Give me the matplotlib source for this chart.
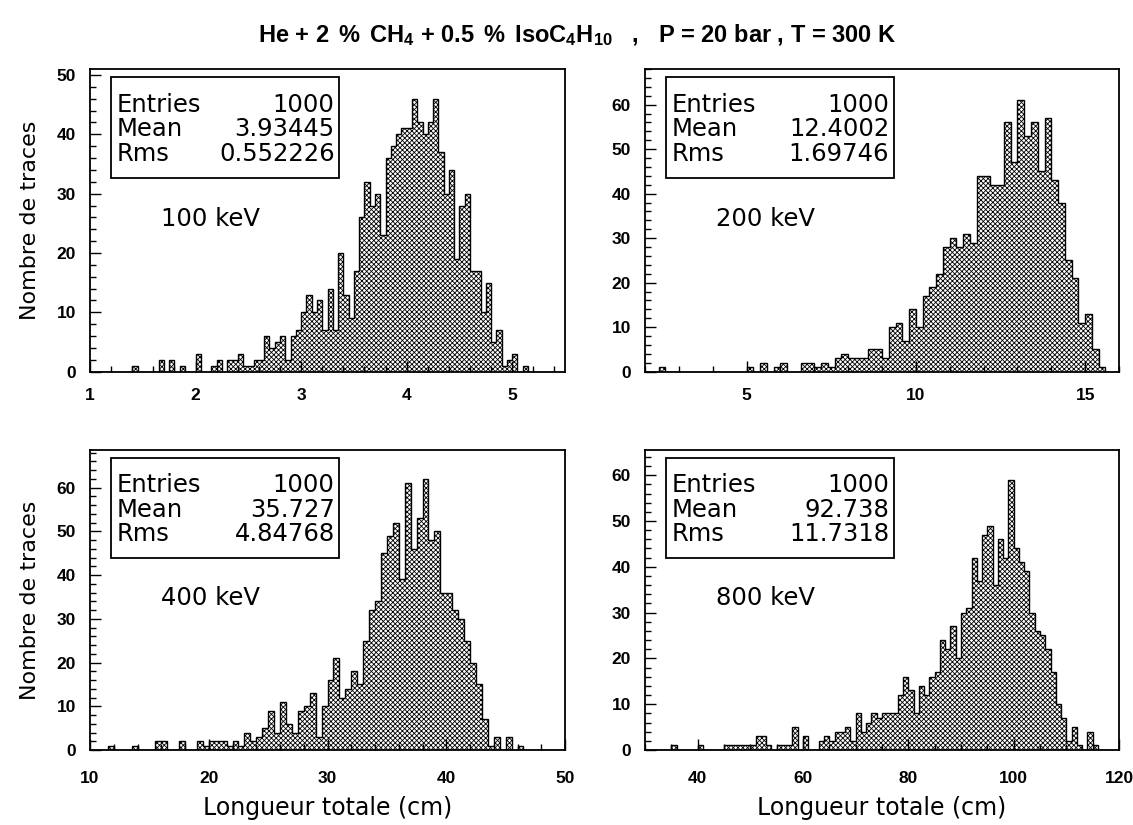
import numpy as np
import matplotlib
matplotlib.use("Agg")
import matplotlib.pyplot as plt
from matplotlib.patches import Rectangle
from matplotlib.ticker import MultipleLocator

# bin contents (1000 tracks each)
counts_100 = [
    0, 0, 0, 0, 0, 0, 0, 0, 1, 0,
    0, 0, 0, 2, 0, 2, 0, 1, 0, 0,
    3, 0, 0, 1, 2, 0, 2, 2, 3, 1,
    1, 2, 2, 6, 4, 5, 6, 2, 6, 7,
    10, 13, 10, 12, 7, 14, 7, 20, 13, 9,
    17, 26, 32, 28, 30, 23, 36, 38, 40, 41,
    41, 46, 42, 40, 42, 46, 37, 30, 34, 19,
    28, 30, 17, 17, 10, 15, 5, 7, 1, 2,
    3, 0, 1, 0, 0, 0, 0, 0, 0, 0,
]
counts_200 = [
    0, 0, 1, 0, 0, 0, 0, 0, 0, 0,
    0, 0, 0, 0, 0, 1, 0, 2, 0, 1,
    2, 0, 0, 2, 2, 1, 2, 1, 3, 4,
    3, 3, 3, 5, 5, 3, 10, 11, 7, 14,
    10, 17, 19, 22, 28, 30, 28, 31, 29, 44,
    44, 42, 42, 56, 47, 61, 53, 56, 45, 57,
    43, 38, 25, 21, 11, 13, 5, 1, 0, 0,
]
counts_400 = [
    0, 0, 0, 1, 0, 0, 0, 1, 0, 0,
    0, 2, 2, 0, 0, 2, 0, 0, 2, 1,
    2, 2, 2, 1, 2, 1, 4, 2, 3, 5,
    9, 4, 11, 6, 4, 9, 10, 13, 3, 10,
    16, 21, 12, 14, 18, 15, 25, 32, 34, 45,
    49, 52, 39, 61, 46, 53, 62, 48, 50, 36,
    36, 32, 30, 25, 20, 15, 7, 1, 3, 0,
    3, 0, 1, 0, 0, 0, 0, 0, 0, 0,
]
counts_800 = [
    0, 0, 0, 0, 0, 1, 0, 0, 0, 0,
    1, 0, 0, 0, 0, 1, 1, 1, 1, 1,
    1, 3, 3, 1, 0, 1, 1, 1, 5, 0,
    3, 0, 0, 2, 3, 2, 4, 4, 5, 2,
    8, 4, 6, 8, 7, 8, 8, 8, 12, 16,
    13, 8, 14, 12, 16, 17, 24, 22, 27, 20,
    30, 31, 42, 37, 47, 49, 36, 46, 42, 59,
    44, 41, 39, 30, 26, 25, 22, 17, 10, 7,
    2, 5, 1, 0, 4, 1, 0, 0, 0, 0,
]

energies = ["100 keV", "200 keV", "400 keV", "800 keV"]
entries = ["1000", "1000", "1000", "1000"]
means = ["3.93445", "12.4002", "35.727", "92.738"]
rms = ["0.552226", "1.69746", "4.84768", "11.7318"]
x_ranges = [(1.0, 5.5), (2.0, 16.0), (10.0, 50.0), (30.0, 120.0)]
y_max = [51.0, 68.0, 68.6, 65.5]
x_major = [1, 5, 10, 20]
x_minor = [0.2, 1, 2, 5]

# tick labels are bold Helvetica-like; other text set explicitly below
plt.rcParams["font.family"] = "Liberation Sans"
plt.rcParams["font.weight"] = "bold"
plt.rcParams["hatch.linewidth"] = 0.6
plt.rcParams["mathtext.fontset"] = "custom"
plt.rcParams["mathtext.rm"] = "Liberation Sans:bold"
plt.rcParams["mathtext.it"] = "Liberation Sans:bold"
plt.rcParams["mathtext.bf"] = "Liberation Sans:bold"

W, H = 1133, 825
fig = plt.figure(figsize=(W / 100, H / 100), dpi=100)

# axes boxes in pixels: left, top, right, bottom
boxes = [(90, 69, 565, 371.7), (645, 69, 1119, 371.7),
         (90, 450, 565, 750), (645, 450, 1119, 750)]

all_counts = [counts_100, counts_200, counts_400, counts_800]
label_font = "DejaVu Sans"

for k, counts in enumerate(all_counts):
    l, t, r, b = boxes[k]
    ax = fig.add_axes([l / W, (H - b) / H, (r - l) / W, (b - t) / H])
    lo, hi = x_ranges[k]
    edges = np.linspace(lo, hi, len(counts) + 1)
    ax.stairs(counts, edges, fill=True, facecolor="white",
              edgecolor="black", hatch="xxxxxxx", linewidth=0)
    ax.stairs(counts, edges, color="black", linewidth=1.0)
    ax.set_xlim(lo, hi)
    ax.set_ylim(0, y_max[k])

    ax.xaxis.set_major_locator(MultipleLocator(x_major[k]))
    ax.xaxis.set_minor_locator(MultipleLocator(x_minor[k]))
    ax.yaxis.set_major_locator(MultipleLocator(10))
    ax.yaxis.set_minor_locator(MultipleLocator(2))
    ax.tick_params(which="both", direction="in", top=False, right=False,
                   width=1.0, labelsize=12.5)
    ax.tick_params(which="major", length=8)
    ax.tick_params(which="minor", length=4)
    ax.tick_params(axis="x", pad=12 if k < 2 else 15)
    ax.tick_params(axis="y", pad=10)
    for sp in ax.spines.values():
        sp.set_linewidth(1.3)

    # stat box
    ax.add_patch(Rectangle((0.045, 0.639), 0.48, 0.334, transform=ax.transAxes,
                           facecolor="white", edgecolor="black",
                           linewidth=1.3, zorder=5))
    for i, (name, val) in enumerate(zip(["Entries", "Mean", "Rms"],
                                        [entries[k], means[k], rms[k]])):
        yy = 0.859 - i * 0.0815
        ax.text(0.056, yy, name, transform=ax.transAxes, ha="left",
                va="baseline", fontsize=17.5, family=label_font,
                weight="normal", zorder=6)
        ax.text(0.515, yy, val, transform=ax.transAxes, ha="right",
                va="baseline", fontsize=17.5, family=label_font,
                weight="normal", zorder=6)

    ax.text(0.149, 0.482, energies[k], transform=ax.transAxes, ha="left",
            va="baseline", fontsize=17.5, family=label_font, weight="normal")

    if k % 2 == 0:
        ax.set_ylabel("Nombre de traces", fontsize=16, family=label_font,
                      weight="normal", labelpad=12)
    if k >= 2:
        ax.set_xlabel("Longueur totale (cm)", fontsize=17, family=label_font,
                      weight="normal", labelpad=7)

fig.text(0.509, 0.958,
         r"He + 2 $\,$%$\,$ CH$_4$ + 0.5 $\,$%$\,$ IsoC$_4$H$_{10}$   ,   "
         r"P = 20 bar , T = 300 K",
         ha="center", va="center", fontsize=17, fontweight="bold")

fig.savefig("out.png", dpi=100)
